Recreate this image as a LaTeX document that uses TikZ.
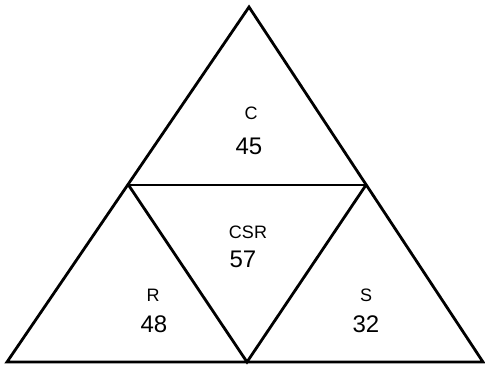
\documentclass[tikz,border=0pt]{standalone}
\usepackage{fontspec}
\setmainfont{Liberation Sans}
\begin{document}
\begin{tikzpicture}[x=1pt,y=-1pt,
  edge/.style={line width=2.8pt,line join=miter},
  letter/.style={font=\fontsize{18}{18}\selectfont,inner sep=0pt},
  number/.style={font=\fontsize{24}{24}\selectfont,inner sep=0pt}]
\useasboundingbox (0,0) rectangle (485,369);
\coordinate (top) at (249,7);
\coordinate (ml) at (128.5,185);
\coordinate (mr) at (366,185);
\coordinate (bl) at (7,362);
\coordinate (bm) at (247,362);
\coordinate (br) at (483,362);
\draw[edge] (top) -- (bl) -- (br) -- cycle;
\draw[edge] (ml) -- (mr);
\draw[edge] (ml) -- (bm) -- (mr);
\node[letter] (lc) at (251,113) {C};
\node[number] (nc) at (249,146) {45};
\node[letter] (lcsr) at (248,232) {CSR};
\node[number] (ncsr) at (243,259) {57};
\node[letter] (lr) at (153,295) {R};
\node[number] (nr) at (154,324) {48};
\node[letter] (ls) at (366,295) {S};
\node[number] (ns) at (366,324) {32};
\end{tikzpicture}
\end{document}
